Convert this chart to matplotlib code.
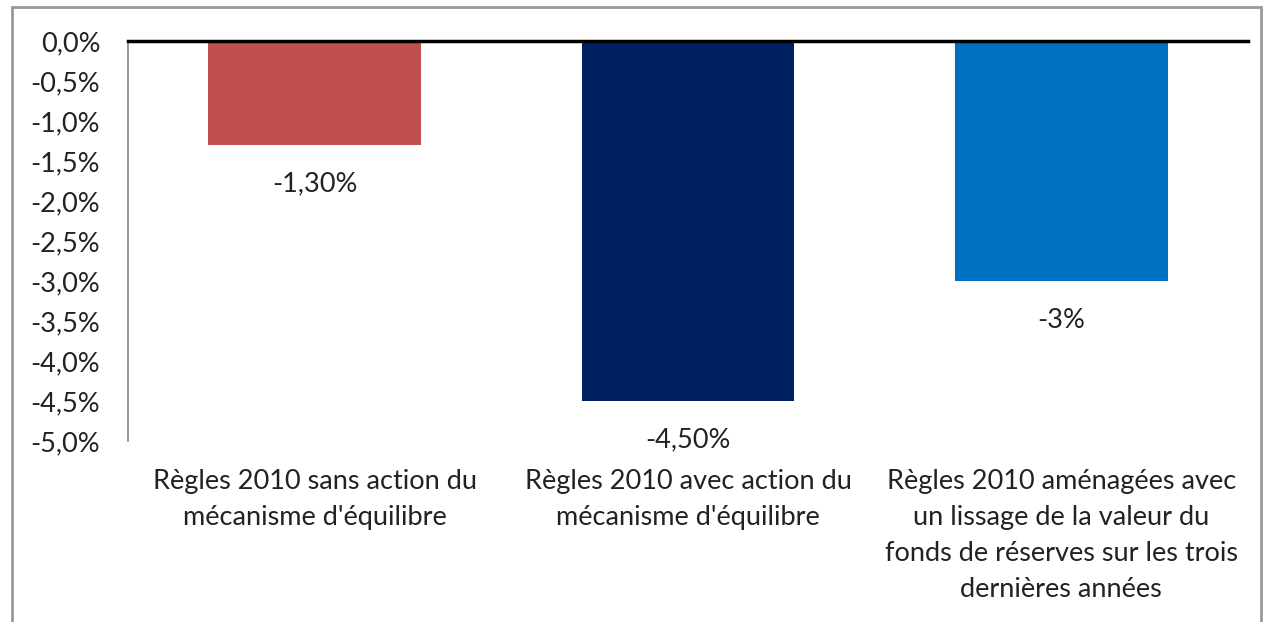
import matplotlib.pyplot as plt
from matplotlib.patches import Rectangle

categories = [
    "Règles 2010 sans action du\nmécanisme d'équilibre",
    "Règles 2010 avec action du\nmécanisme d'équilibre",
    "Règles 2010 aménagées avec\nun lissage de la valeur du\nfonds de réserves sur les trois\ndernières années",
]
values = [-1.3, -4.5, -3.0]
value_labels = ["-1,30%", "-4,50%", "-3%"]
colors = ["#C0504D", "#002060", "#0070C0"]
yticks = [0.0, -0.5, -1.0, -1.5, -2.0, -2.5, -3.0, -3.5, -4.0, -4.5, -5.0]

plt.rcParams['font.family'] = ['Lato', 'DejaVu Sans']
fs = 19.5

fig = plt.figure(figsize=(12.64, 6.22), dpi=100)
ax = fig.add_axes([128 / 1264, 1 - 441 / 622, 1120 / 1264, 400 / 622])

x = list(range(len(values)))
ax.bar(x, values, width=0.57, color=colors, zorder=2)

for xi, v, lab in zip(x, values, value_labels):
    ax.text(xi, v - 0.49, lab, ha='center', va='center', fontsize=fs, color='#222222')

ax.set_xlim(-0.5, 2.5)
ax.set_ylim(-5.0, 0.0)
ax.set_yticks(yticks)
ax.set_yticklabels([f"{t:.1f}%".replace('.', ',') for t in yticks])
ax.tick_params(axis='y', length=0, pad=20, labelsize=fs, labelcolor='#222222')

ax.set_xticks(x)
ax.set_xticklabels(categories, fontsize=fs, color='#222222', va='top', linespacing=1.55)
ax.tick_params(axis='x', length=0, pad=20)

for s in ['top', 'right', 'bottom']:
    ax.spines[s].set_visible(False)
ax.spines['left'].set_color('#888888')
ax.spines['left'].set_linewidth(1.2)
ax.axhline(0, color='black', linewidth=2.5, zorder=3, clip_on=False)

# outer chart frame
fig.patches.append(Rectangle((12 / 1264, -0.05), 1249 / 1264, 1 - 7 / 622 + 0.05,
                             transform=fig.transFigure, fill=False,
                             edgecolor='#999999', linewidth=2))

fig.savefig('out.png', dpi=100)
